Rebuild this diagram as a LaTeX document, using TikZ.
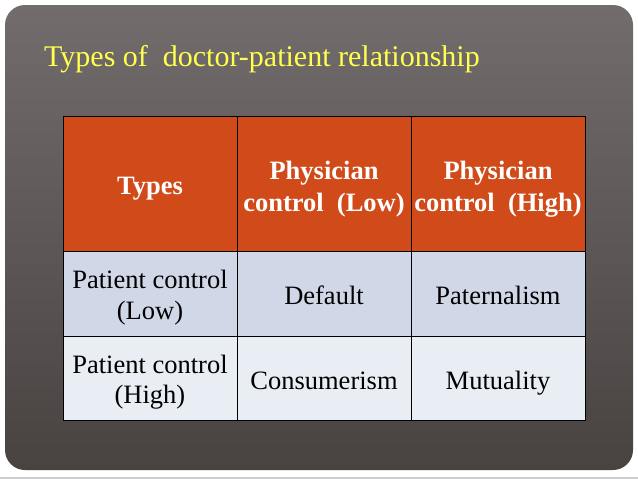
\documentclass[tikz,border=0pt]{standalone}
\usepackage{fontspec}
\setmainfont{Liberation Serif}
\begin{document}
\begin{tikzpicture}[x=1pt,y=-1pt,
  cell/.style={draw=black,line width=0.8pt,minimum width=174pt,align=center,inner sep=0pt},
  one/.style={text height=22pt,text depth=0pt},
  two/.style={text height=#1,text depth=4.7pt},
  head/.style={cell,fill=hdr,minimum height=135pt,text=white,font=\bfseries\fontsize{26.5}{32}\selectfont},
  rowa/.style={cell,fill=rowA,minimum height=85pt,font=\fontsize{26.5}{30.5}\selectfont},
  rowb/.style={cell,fill=rowB,minimum height=84pt,font=\fontsize{26.5}{30.5}\selectfont}]
\definecolor{hdr}{RGB}{208,74,26}
\definecolor{rowA}{RGB}{208,216,232}
\definecolor{rowB}{RGB}{233,237,244}
\definecolor{bgtop}{RGB}{115,108,109}
\definecolor{bgbot}{RGB}{72,66,65}
\definecolor{ttl}{RGB}{255,255,77}
\useasboundingbox (0,0) rectangle (638,479);
\fill[white] (0,0) rectangle (638,479);
\fill[gray!40] (0,477) rectangle (638,479);
\shade[top color=bgtop,bottom color=bgbot,rounded corners=20pt] (5,5) rectangle (633,470);
\node[text=ttl,anchor=base west,font=\fontsize{30}{34}\selectfont,inner sep=0pt] (title) at (44,66) {Types of \ doctor-patient relationship};
\node[head,one] (h1) at (150,183.5) {Types};
\node[head,two=60.7pt] (h2) at (324,183.5) {Physician\\control\ \ (Low)};
\node[head,two=60.7pt] (h3) at (498,183.5) {Physician\\control\ \ (High)};
\node[rowa,two=56.6pt] (a1) at (150,293.5) {Patient control\\(Low)};
\node[rowa,one] (a2) at (324,293.5) {Default};
\node[rowa,one] (a3) at (498,293.5) {Paternalism};
\node[rowb,two=56.6pt] (b1) at (150,378) {Patient control\\(High)};
\node[rowb,one] (b2) at (324,378) {Consumerism};
\node[rowb,one] (b3) at (498,378) {Mutuality};
\draw[line width=1.8pt] (h1.south west) -- (h3.south east);
\end{tikzpicture}
\end{document}
